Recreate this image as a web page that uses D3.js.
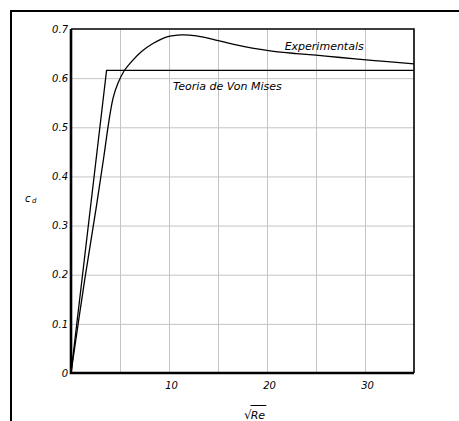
<!DOCTYPE html>
<html>
<head>
<meta charset="utf-8">
<script src="https://cdn.jsdelivr.net/npm/d3@7"></script>
<style>
    body { margin: 0; background: #fff; }
    svg text { font-family: 'DejaVu Sans', sans-serif; font-style: italic; fill: #000; }
</style>
</head>
<body>
<div id="chart"></div>
<script>
const yTicks = [0, 0.1, 0.2, 0.3, 0.4, 0.5, 0.6, 0.7];
const xGridTicks = [5, 10, 15, 20, 25, 30];
const xTickLabels = [10, 20, 30];

// Teoria de Von Mises
const vonMisesX = [0, 3.63, 35];
const vonMisesY = [0, 0.616, 0.616];

// Experimentals
const experimentalX = [0, 1.4, 2.6, 3.35, 3.85, 4.3, 4.8, 5.4, 6.2, 7.2, 8.4, 9.8, 11.3, 12.8, 14.5, 16.5, 18.5, 20.5, 23, 26, 29, 32, 35];
const experimentalY = [0, 0.19, 0.34, 0.44, 0.51, 0.56, 0.59, 0.614, 0.634, 0.654, 0.671, 0.684, 0.688, 0.686, 0.679, 0.669, 0.661, 0.655, 0.65, 0.645, 0.639, 0.634, 0.629];

let margin = { top: 29, right: 45, bottom: 48, left: 71 };
let W = 459, H = 421;
let width = W - margin.left - margin.right;
let height = H - margin.top - margin.bottom;

let svg = d3.select('#chart').append('svg')
    .attr('width', W)
    .attr('height', H);

// outer drawing frame (top and left edges visible)
svg.append('path')
    .attr('d', 'M11,' + H + 'V11H' + W)
    .attr('fill', 'none')
    .attr('stroke', '#000')
    .attr('stroke-width', 2);

let g = svg.append('g')
    .attr('transform', 'translate(' + margin.left + ',' + margin.top + ')');

let x = d3.scaleLinear().domain([0, 35]).range([0, width]);
let y = d3.scaleLinear().domain([0, 0.7]).range([height, 0]);

// grid
g.append('g')
    .attr('transform', 'translate(0,' + height + ')')
    .call(d3.axisBottom(x).tickValues(xGridTicks).tickSize(-height).tickFormat(''))
    .call(a => a.select('.domain').remove())
    .call(a => a.selectAll('line').attr('stroke', '#c4c4c4'));

g.append('g')
    .call(d3.axisLeft(y).tickValues(yTicks.slice(1, -1)).tickSize(-width).tickFormat(''))
    .call(a => a.select('.domain').remove())
    .call(a => a.selectAll('line').attr('stroke', '#c4c4c4'));

// tick labels
g.append('g')
    .call(d3.axisLeft(y).tickValues(yTicks).tickSize(0).tickPadding(3)
        .tickFormat(d => d === 0 ? '0' : d3.format('.1f')(d)))
    .call(a => a.select('.domain').remove())
    .call(a => a.selectAll('text').attr('font-size', 10).attr('font-family', null));

g.append('g')
    .attr('transform', 'translate(0,' + height + ')')
    .call(d3.axisBottom(x).tickValues(xTickLabels).tickSize(0).tickPadding(9))
    .call(a => a.select('.domain').remove())
    .call(a => a.selectAll('text').attr('font-size', 10).attr('font-family', null).attr('dx', 2));

// plot frame
g.append('path')
    .attr('d', 'M0,0H' + width + 'V' + height)
    .attr('fill', 'none').attr('stroke', '#000').attr('stroke-width', 1.6);
g.append('path')
    .attr('d', 'M0,0V' + height + 'H' + width)
    .attr('fill', 'none').attr('stroke', '#000').attr('stroke-width', 2.6);

// curves
let line = d3.line().x(d => x(d[0])).y(d => y(d[1]));

g.append('path')
    .datum(d3.zip(vonMisesX, vonMisesY))
    .attr('d', line)
    .attr('fill', 'none').attr('stroke', '#000').attr('stroke-width', 1.3);

g.append('path')
    .datum(d3.zip(experimentalX, experimentalY))
    .attr('d', line.curve(d3.curveCatmullRom.alpha(0.5)))
    .attr('fill', 'none').attr('stroke', '#000').attr('stroke-width', 1.3);

// annotations
g.append('text')
    .attr('x', x(21.8)).attr('y', y(0.658))
    .attr('font-size', 11)
    .text('Experimentals');

g.append('text')
    .attr('x', x(10.4)).attr('y', y(0.576))
    .attr('font-size', 11)
    .text('Teoria de Von Mises');

// axis titles
let cd = svg.append('text')
    .attr('x', 25).attr('y', 202)
    .attr('font-size', 10);
cd.append('tspan').text('c');
cd.append('tspan').attr('font-size', 7).attr('dx', 1.5).attr('dy', 1).text('d');

let re = svg.append('text')
    .attr('x', 244).attr('y', 419)
    .attr('font-size', 11);
re.append('tspan').attr('font-style', 'normal').attr('font-size', 12).text('√');
re.append('tspan').attr('dx', -1).text('Re');
let bb = re.node().getBBox();
svg.append('line')
    .attr('x1', 250.5).attr('x2', bb.x + bb.width + 1)
    .attr('y1', 405.5).attr('y2', 405.5)
    .attr('stroke', '#000').attr('stroke-width', 1);
</script>
</body>
</html>
